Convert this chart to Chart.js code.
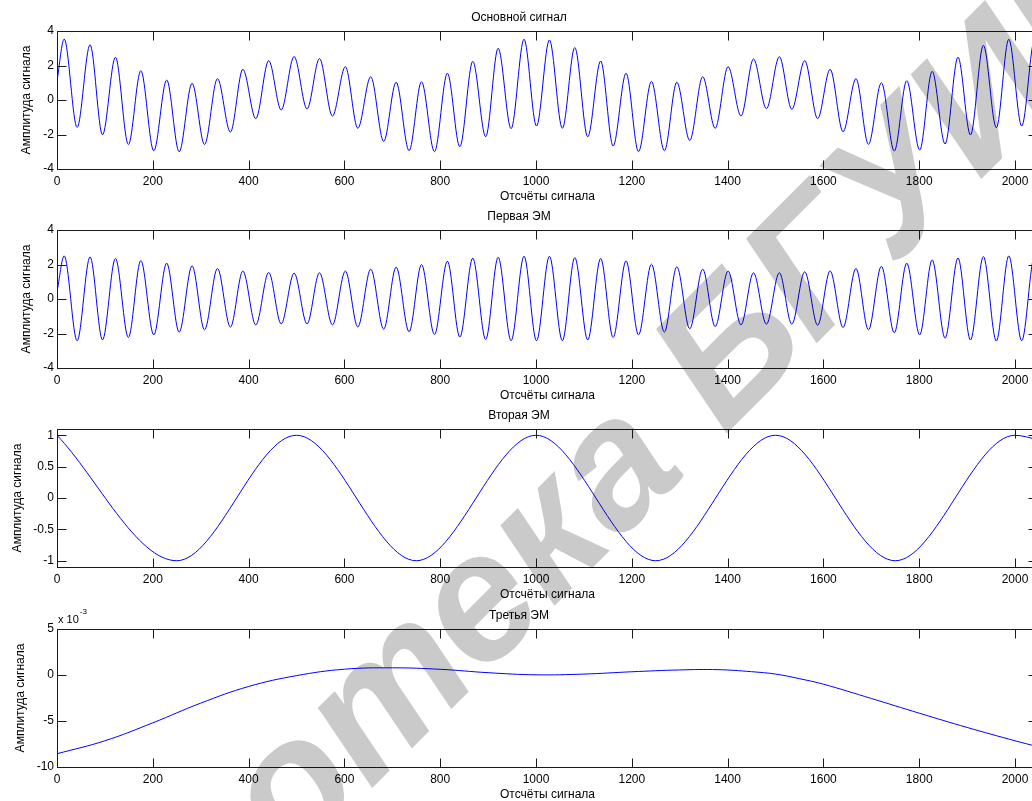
<!DOCTYPE html>
<html>
<head>
<meta charset="utf-8">
<script src="https://cdn.jsdelivr.net/npm/chart.js@4.4.1/dist/chart.umd.min.js"></script>
<style>
html,body{margin:0;padding:0;background:#fff;overflow:hidden;width:1032px;height:801px;}
canvas.plot{position:absolute;left:0;}
#wm{position:absolute;left:0;top:0;mix-blend-mode:multiply;pointer-events:none;}
</style>
</head>
<body>
<canvas class="plot" id="c1" width="1040" height="206" style="top:0px"></canvas>
<canvas class="plot" id="c2" width="1040" height="206" style="top:199px"></canvas>
<canvas class="plot" id="c3" width="1040" height="206" style="top:398px"></canvas>
<canvas class="plot" id="c4" width="1040" height="206" style="top:598px"></canvas>
<canvas id="wm" width="1032" height="801"></canvas>
<script>
// ---------------- data ----------------
const xTicks = [0, 200, 400, 600, 800, 1000, 1200, 1400, 1600, 1800, 2000];

// sample positions of the first two panels: start, every peak / trough, end
const sampleX = [0,
  15, 42, 69, 95, 122, 149, 175, 202, 229, 255, 282, 308, 335, 362, 388, 415,
  442, 468, 495, 522, 548, 575, 602, 628, 655, 682, 708, 735, 761, 788, 815, 841,
  868, 895, 921, 948, 975, 1001, 1028, 1055, 1081, 1108, 1135, 1161, 1188, 1214,
  1241, 1268, 1294, 1321, 1348, 1374, 1401, 1428, 1454, 1481, 1508, 1534, 1561,
  1588, 1614, 1641, 1668, 1694, 1721, 1748, 1774, 1801, 1827, 1854, 1881, 1907,
  1934, 1961, 1987, 2014, 2041,
  2048];

const signalY = [1.1,
  3.53, -1.59, 3.2, -2.02, 2.48, -2.58, 1.70, -2.95, 1.16, -3.0, 0.97, -2.58, 1.24, -1.86, 1.78, -1.08,
  2.28, -0.58, 2.52, -0.52, 2.40, -0.93, 1.93, -1.64, 1.35, -2.40, 1.03, -2.94, 1.06, -3.0, 1.55, -2.71,
  2.24, -2.13, 3.0, -1.66, 3.52, -1.51, 3.48, -1.64, 3.04, -2.13, 2.26, -2.67, 1.55, -3.0,
  1.08, -2.94, 1.03, -2.35, 1.35, -1.64, 1.93, -0.93, 2.38, -0.50, 2.51, -0.54, 2.28,
  -1.08, 1.78, -1.84, 1.24, -2.57, 1.0, -2.96, 1.12, -2.90, 1.66, -2.55, 2.48, -2.03,
  3.17, -1.61, 3.52, -1.51, 3.5,
  3.35];

const imf1Y = [0.4,
  2.5, -2.42, 2.44, -2.37, 2.35, -2.23, 2.23, -2.08, 2.08, -1.92, 1.92, -1.79, 1.77, -1.63, 1.62, -1.5,
  1.54, -1.44, 1.5, -1.44, 1.52, -1.5, 1.62, -1.62, 1.73, -1.75, 1.85, -1.90, 2.0, -2.06, 2.19, -2.21,
  2.37, -2.35, 2.42, -2.42, 2.48, -2.42, 2.48, -2.42, 2.40, -2.37, 2.35, -2.23, 2.21, -2.08,
  2.02, -1.92, 1.87, -1.73, 1.73, -1.60, 1.62, -1.5, 1.52, -1.46, 1.52, -1.46, 1.58,
  -1.52, 1.63, -1.65, 1.77, -1.79, 1.90, -1.96, 2.08, -2.08, 2.27, -2.27, 2.38, -2.38,
  2.46, -2.44, 2.5, -2.42, 2.5,
  2.3];

const imf2X = [0, 250, 500, 750, 1000, 1250, 1500, 1750, 2000, 2048];
const imf2Y = [1.0, -1.0, 1.0, -1.0, 1.0, -1.0, 1.0, -1.0, 1.0, 0.93];

const imf3X = [0, 100, 200, 300, 400, 500, 600, 700, 800, 900, 1000, 1100, 1200, 1300, 1380,
  1450, 1500, 1550, 1600, 1700, 1800, 1900, 2000, 2048];
const imf3Y = [-8.56e-3, -7.15e-3, -5.2e-3, -3.06e-3, -1.25e-3, -0.07e-3, 0.63e-3, 0.78e-3, 0.62e-3,
  0.25e-3, 0.02e-3, 0.1e-3, 0.35e-3, 0.55e-3, 0.58e-3, 0.36e-3, 0.1e-3, -0.4e-3, -1.0e-3,
  -2.55e-3, -4.15e-3, -5.7e-3, -7.15e-3, -7.8e-3];

const yTicks12 = [-4, -2, 0, 2, 4];
const yTicks3 = [-1, -0.5, 0, 0.5, 1];
const yTicks4 = [-0.01, -0.005, 0, 0.005];

const titles = ['Основной сигнал', 'Первая ЭМ', 'Вторая ЭМ', 'Третья ЭМ'];
const xLabel = 'Отсчёты сигнала';
const yLabel = 'Амплитуда сигнала';

// ---------------- chart setup ----------------
const FONT = "'Liberation Sans', Arial, sans-serif";
Chart.defaults.font.family = FONT;
Chart.defaults.font.size = 12;
Chart.defaults.color = '#000';

const boxPlugin = {
  id: 'matlabBox',
  afterDraw(chart) {
    const {ctx, chartArea: a, scales: {x, y}} = chart;
    const L = Math.round(a.left) + 0.5, R = Math.round(a.right) - 0.5;
    const T = Math.round(a.top) + 0.5, B = Math.round(a.bottom) + 0.5;
    const tl = 9;
    ctx.save();
    ctx.strokeStyle = '#1a1a1a';
    ctx.lineWidth = 1;
    ctx.beginPath();
    x.ticks.forEach(t => {
      const px = Math.round(x.getPixelForValue(t.value)) + 0.5;
      ctx.moveTo(px, B); ctx.lineTo(px, B - tl);
      ctx.moveTo(px, T); ctx.lineTo(px, T + tl);
    });
    y.ticks.forEach(t => {
      const py = Math.round(y.getPixelForValue(t.value)) + 0.5;
      ctx.moveTo(L, py); ctx.lineTo(L + tl, py);
      ctx.moveTo(R, py); ctx.lineTo(R - tl, py);
    });
    ctx.stroke();
    ctx.strokeRect(L, T, R - L, B - T);
    ctx.restore();
  }
};

const exponentPlugin = {
  id: 'exponent',
  afterDraw(chart) {
    const ctx = chart.ctx;
    ctx.save();
    ctx.fillStyle = '#000';
    ctx.textBaseline = 'alphabetic';
    ctx.font = '11px ' + FONT;
    const base = 'x 10';
    ctx.fillText(base, 58, 25);
    const w = ctx.measureText(base).width;
    ctx.font = '8px ' + FONT;
    ctx.fillText('-3', 58 + w + 1, 16);
    ctx.restore();
  }
};

function makeChart(id, title, xs, ys, yMin, yMax, yTickVals, yTitlePad, fmt, curve, extraPlugins) {
  const pts = xs.map((x, i) => ({x: x, y: ys[i]}));
  const ds = {
    data: pts,
    borderColor: '#0000ff',
    borderWidth: 1,
    pointRadius: 0,
    fill: false
  };
  if (curve === 'smooth') {
    ds.cubicInterpolationMode = 'default';
    ds.tension = 0.4;
  } else {
    ds.cubicInterpolationMode = 'monotone';
  }
  return new Chart(document.getElementById(id), {
    type: 'line',
    data: {datasets: [ds]},
    options: {
      responsive: false,
      animation: false,
      events: [],
      layout: {padding: {left: 0, right: 2, top: 0, bottom: 0}},
      plugins: {
        legend: {display: false},
        tooltip: {enabled: false},
        title: {
          display: true,
          text: title,
          color: '#000',
          font: {size: 12, weight: 'normal', family: FONT},
          padding: {top: 10.5, bottom: 6.1}
        }
      },
      scales: {
        x: {
          type: 'linear',
          min: 0,
          max: 2048,
          grid: {display: false, drawTicks: false},
          border: {display: false},
          afterBuildTicks: s => { s.ticks = xTicks.map(v => ({value: v})); },
          afterFit: s => { s.height = 37; },
          ticks: {
            autoSkip: false, maxRotation: 0, padding: 5, color: '#000',
            callback: v => String(v)
          },
          title: {display: true, text: xLabel, color: '#000', padding: {top: 0, bottom: 2.2}}
        },
        y: {
          type: 'linear',
          min: yMin,
          max: yMax,
          grid: {display: false, drawTicks: false},
          border: {display: false},
          afterBuildTicks: s => { s.ticks = yTickVals.map(v => ({value: v})); },
          afterFit: s => { s.width = 57; },
          ticks: {padding: 3, color: '#000', callback: fmt},
          title: {display: true, text: yLabel, color: '#000', padding: {top: yTitlePad, bottom: 0}}
        }
      }
    },
    plugins: [boxPlugin].concat(extraPlugins || [])
  });
}

const plainFmt = v => String(Math.round(v * 1000) / 1000);
const milliFmt = v => String(Math.round(v * 1000));

makeChart('c1', titles[0], sampleX, signalY, -4, 4, yTicks12, 19.8, plainFmt, 'monotone');
makeChart('c2', titles[1], sampleX, imf1Y, -4, 4, yTicks12, 19.8, plainFmt, 'monotone');
makeChart('c3', titles[2], imf2X, imf2Y, -1.1, 1.1, yTicks3, 10.5, plainFmt, 'monotone');
makeChart('c4', titles[3], imf3X, imf3Y, -0.01, 0.005, yTicks4, 13.3, milliFmt, 'smooth', [exponentPlugin]);

// ---------------- watermark ----------------
(function () {
  const wm = document.getElementById('wm');
  const g = wm.getContext('2d');
  const size = 180;
  const text = 'Библиотека БГУИР';
  g.font = 'italic bold ' + size + 'px ' + FONT;
  const pre = g.measureText('Библи').width;
  const wo = g.measureText('о').width;
  const u = pre + wo / 2, v = -0.26 * size;
  const c = Math.SQRT1_2;
  const target = {x: 298, y: 796};
  const ox = target.x - (u + v) * c;
  const oy = target.y - (v - u) * c;
  g.translate(ox, oy);
  g.rotate(-Math.PI / 4);
  g.fillStyle = 'rgb(202,202,202)';
  g.fillText(text, 0, 0);
})();
</script>
</body>
</html>
